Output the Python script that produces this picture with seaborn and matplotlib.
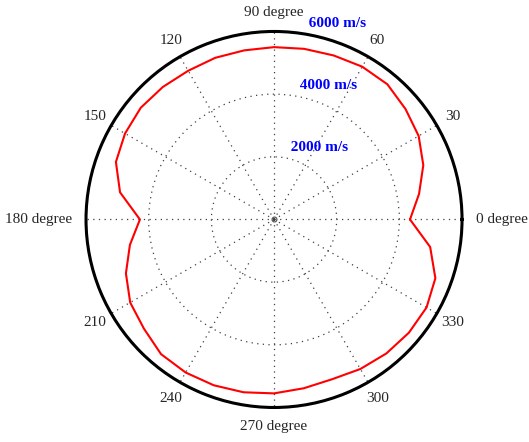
import numpy as np
import pandas as pd
import matplotlib
matplotlib.use("Agg")
import matplotlib.pyplot as plt
import seaborn as sns

# Data: velocity (m/s) vs angle (degrees)
angles_deg = [0, 10, 20, 30, 40, 50, 60, 70, 80, 90, 100, 110, 120, 130, 140, 150,
              160, 170, 180, 190, 200, 210, 220, 230, 240, 250, 260, 270, 280, 290,
              300, 310, 320, 330, 340, 350, 360]
velocity = [4340, 4700, 5070, 5330, 5480, 5630, 5630, 5570, 5530, 5500, 5480, 5490,
            5480, 5520, 5550, 5490, 5370, 4990, 4280, 4670, 5030, 5300, 5420, 5610,
            5640, 5630, 5600, 5550, 5470, 5425, 5510, 5580, 5620, 5620, 5480, 5060, 4340]
ring_values = [2000, 4000, 6000]
ring_labels = ["2000 m/s", "4000 m/s", "6000 m/s"]
theta_ticks = [0, 30, 60, 90, 120, 150, 180, 210, 240, 270, 300, 330]
theta_labels = ["0 degree", "30", "60", "90 degree", "120", "150",
                "180 degree", "210", "240", "270 degree", "300", "330"]

sns.set_style("white")
plt.rcParams["font.family"] = ["Liberation Serif", "DejaVu Serif"]

fig = plt.figure(figsize=(5.29, 4.42), dpi=100)
ax = fig.add_axes([0.1626, 0.0781, 0.7108, 0.8507], projection="polar")
rmax = ring_values[-1]
ax.set_ylim(0, rmax)

df = pd.DataFrame({"theta": np.deg2rad(angles_deg), "r": velocity})
sns.lineplot(data=df, x="theta", y="r", ax=ax, sort=False, estimator=None,
             color="#ff0000", linewidth=1.5, zorder=5)

ax.set_xlabel("")
ax.set_ylabel("")
ax.set_rticks(ring_values[:-1])
ax.set_yticklabels([])
ax.set_thetagrids(theta_ticks, labels=[""] * len(theta_ticks))
ax.grid(True, color="0.25", linestyle=(0, (1, 3.5)), linewidth=0.9)
ax.spines["polar"].set_color("black")
ax.spines["polar"].set_linewidth(2.2)
ax.tick_params(axis="both", length=0)

# center marker
ax.plot([0], [0], marker="o", markersize=3.5, markerfacecolor="none",
        markeredgecolor="0.3", markeredgewidth=0.8, zorder=6)

# angle labels
for t, lab in zip(theta_ticks, theta_labels):
    th = np.deg2rad(t)
    if t == 0:
        ax.text(th, rmax * 1.075, lab, ha="left", va="center", fontsize=11, clip_on=False)
    elif t == 180:
        ax.text(th, rmax * 1.075, lab, ha="right", va="center", fontsize=11, clip_on=False)
    else:
        ax.text(th, rmax * 1.1, lab, ha="center", va="center", fontsize=11, clip_on=False)

# radial labels (MATLAB style at 82 degrees)
for rv, lab in zip(ring_values, ring_labels):
    ax.text(np.deg2rad(82), rv + rmax / 3 / 20, "  " + lab, ha="left", va="bottom",
            fontsize=11, fontweight="bold", color="#0000ff", clip_on=False, zorder=7)

fig.savefig("out.png", dpi=100)
